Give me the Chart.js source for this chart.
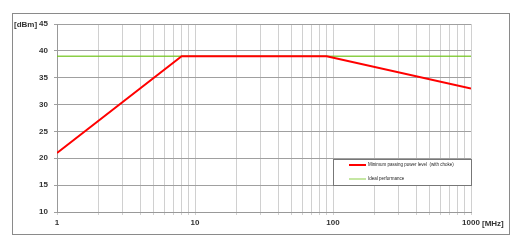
<!DOCTYPE html>
<html>
<head>
<meta charset="UTF-8" />
<script src="https://cdn.jsdelivr.net/npm/chart.js"></script>
<style>
  html, body { margin: 0; padding: 0; background: #fff; }
  #wrap { width: 516px; height: 243px; }
</style>
</head>
<body>
<div id="wrap"><canvas id="c" width="516" height="243"></canvas></div>
<script>
  // data
  const seriesNames = ['Minimum passing power level  (with choke)', 'Ideal performance'];
  const minFreq = [1, 8, 90, 1000];
  const minPower = [21, 39, 39, 33];
  const idealFreq = [1, 1000];
  const idealPower = [39, 39];
  const xTickLabels = [1, 10, 100, 1000];
  const xGridValues = [1,2,3,4,5,6,7,8,9,10,20,30,40,50,60,70,80,90,100,200,300,400,500,600,700,800,900,1000];
  const yTicks = [10, 15, 20, 25, 30, 35, 40, 45];

  const font = { family: 'Liberation Sans, Arial, sans-serif', size: 8, weight: 'bold' };

  // frame, units and boxed legend
  const extras = {
    id: 'extras',
    afterDraw(chart) {
      const ctx = chart.ctx;
      const a = chart.chartArea;
      ctx.save();
      ctx.strokeStyle = '#8a8a8a';
      ctx.lineWidth = 1;
      ctx.strokeRect(12.5, 13.5, 497, 221);

      ctx.fillStyle = '#333';
      ctx.font = 'bold 8px Liberation Sans, Arial, sans-serif';
      ctx.textBaseline = 'middle';
      ctx.textAlign = 'left';
      ctx.fillText('[dBm]', 14, a.top + 1);
      ctx.fillText('[MHz]', 482, 224);

      // legend box
      const lx = 333, ly = 159, lw = 138, lh = 26;
      ctx.fillStyle = '#fff';
      ctx.fillRect(lx, ly, lw, lh);
      ctx.strokeStyle = '#777';
      ctx.strokeRect(lx + 0.5, ly + 0.5, lw, lh);
      ctx.font = '4.5px Liberation Sans, Arial, sans-serif';
      chart.data.datasets.forEach((ds, i) => {
        const y = ly + 6 + i * 14;
        ctx.strokeStyle = ds.borderColor;
        ctx.lineWidth = i === 0 ? 2 : 1;
        ctx.beginPath();
        ctx.moveTo(349, y);
        ctx.lineTo(366, y);
        ctx.stroke();
        ctx.fillStyle = '#222';
        ctx.fillText(ds.label, 368, y);
      });
      ctx.restore();
    }
  };

  new Chart(document.getElementById('c'), {
    type: 'line',
    data: {
      datasets: [
        {
          label: seriesNames[0],
          data: minFreq.map((f, i) => ({ x: f, y: minPower[i] })),
          borderColor: '#ff0000',
          borderWidth: 2,
          pointRadius: 0,
          tension: 0
        },
        {
          label: seriesNames[1],
          data: idealFreq.map((f, i) => ({ x: f, y: idealPower[i] })),
          borderColor: 'rgba(110, 195, 25, 0.8)',
          borderWidth: 1.3,
          pointRadius: 0,
          tension: 0
        }
      ]
    },
    options: {
      responsive: false,
      animation: false,
      layout: { padding: { left: 0, right: 45, top: 24, bottom: 0 } },
      plugins: { legend: { display: false }, tooltip: { enabled: false } },
      scales: {
        x: {
          type: 'logarithmic',
          min: 1,
          max: 1000,
          afterBuildTicks: s => { s.ticks = xGridValues.map(v => ({ value: v })); },
          afterFit: s => { s.height = 31; },
          ticks: {
            autoSkip: false,
            maxRotation: 0,
            color: '#333',
            font: font,
            padding: 3,
            callback: v => xTickLabels.includes(v) ? String(v) : ''
          },
          grid: {
            color: '#d0d0d0',
            lineWidth: 1,
            tickLength: 3
          },
          border: { color: '#999' }
        },
        y: {
          min: 10,
          max: 45,
          afterBuildTicks: s => { s.ticks = yTicks.map(v => ({ value: v })); },
          afterFit: s => { s.width = 57; },
          ticks: { color: '#333', font: font, padding: 6 },
          grid: { color: '#a0a0a0', lineWidth: 1, tickLength: 3 },
          border: { color: '#999' }
        }
      }
    },
    plugins: [extras]
  });
</script>
</body>
</html>
